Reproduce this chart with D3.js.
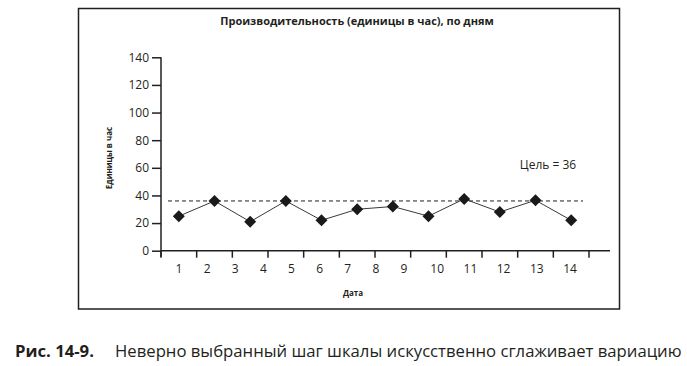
<!DOCTYPE html>
<html>
<head>
<meta charset="utf-8">
<script src="https://cdn.jsdelivr.net/npm/d3@7"></script>
<style>
  body { margin: 0; background: #fff; }
  text { font-family: "Open Sans", sans-serif; fill: #231f20; }
</style>
</head>
<body>
<svg id="chart" width="687" height="366"></svg>
<script>
// values
const values = [25, 36, 21, 36, 22, 30, 32, 25, 37.5, 28, 36.5, 22];
const dayLabels = [1, 2, 3, 4, 5, 6, 7, 8, 9, 10, 11, 12, 13, 14];
const yTicks = [0, 20, 40, 60, 80, 100, 120, 140];
const goal = 36;

const svg = d3.select("#chart");

// frame
svg.append("rect")
    .attr("x", 78.5).attr("y", 8.5)
    .attr("width", 541).attr("height", 300.5)
    .attr("fill", "none").attr("stroke", "#231f20").attr("stroke-width", 1.5);

const x0 = 161, x1 = 589, y0 = 250.7, y1 = 57.3;

const x = d3.scaleBand()
    .domain(d3.range(values.length))
    .range([x0, x1]);

const y = d3.scaleLinear()
    .domain([0, 140])
    .range([y0, y1]);

// labels don't line up with the ticks (that's the point of the figure)
const xLab = d3.scaleLinear()
    .domain([1, 9, 14])
    .range([179, 404, 570]);

// title
svg.append("text")
    .attr("x", 357).attr("y", 25)
    .attr("text-anchor", "middle")
    .style("font-size", "11px").style("font-weight", "bold")
    .text("Производительность (единицы в час), по дням");

// y axis
const yAxis = svg.append("g")
    .attr("transform", `translate(${x0},0)`)
    .call(d3.axisLeft(y).tickValues(yTicks).tickSize(9).tickPadding(3));
yAxis.select(".domain").attr("d", `M0,${y1}V${y0 + 6}`);
yAxis.selectAll("path, line").attr("stroke", "#231f20").attr("stroke-width", 1.5);
yAxis.selectAll("text")
    .style("font-family", "'Open Sans', sans-serif")
    .style("font-size", "12px").attr("fill", "#231f20");

// x axis: ticks at band edges, labels placed separately
const xg = svg.append("g").attr("transform", `translate(0,${y0})`);
xg.append("line")
    .attr("x1", x0).attr("x2", 610)
    .attr("stroke", "#231f20").attr("stroke-width", 1.5);
xg.selectAll("line.tick")
    .data(d3.range(values.length + 1))
    .join("line")
    .attr("class", "tick")
    .attr("x1", d => x0 + d * x.step()).attr("x2", d => x0 + d * x.step())
    .attr("y1", 0).attr("y2", 7)
    .attr("stroke", "#231f20").attr("stroke-width", 1.5);
xg.selectAll("text")
    .data(dayLabels)
    .join("text")
    .attr("x", d => xLab(d))
    .attr("y", 22)
    .attr("text-anchor", "middle")
    .style("font-size", "12px")
    .text(d => d);

// axis titles
svg.append("text")
    .attr("transform", "translate(112,158) rotate(-90)")
    .attr("text-anchor", "middle")
    .style("font-size", "8px").style("font-weight", "bold")
    .text("Единицы в час");

svg.append("text")
    .attr("x", 353).attr("y", 296)
    .attr("text-anchor", "middle")
    .style("font-size", "8px").style("font-weight", "bold")
    .text("Дата");

// goal line
svg.append("line")
    .attr("x1", 168).attr("x2", 583)
    .attr("y1", y(goal)).attr("y2", y(goal))
    .attr("stroke", "#231f20").attr("stroke-width", 1)
    .attr("stroke-dasharray", "4,3");

svg.append("text")
    .attr("x", 548).attr("y", 169)
    .attr("text-anchor", "middle")
    .style("font-size", "12px")
    .text(`Цель = ${goal}`);

// series
const line = d3.line()
    .x((d, i) => x(i) + x.bandwidth() / 2)
    .y(d => y(d));

svg.append("path")
    .datum(values)
    .attr("d", line)
    .attr("fill", "none")
    .attr("stroke", "#3a3a3a").attr("stroke-width", 1);

svg.selectAll("path.pt")
    .data(values)
    .join("path")
    .attr("class", "pt")
    .attr("d", d3.symbol(d3.symbolSquare, 72))
    .attr("transform", (d, i) => `translate(${x(i) + x.bandwidth() / 2},${y(d)}) rotate(45)`)
    .attr("fill", "#1a1a1a");

// caption
svg.append("text")
    .attr("x", 15).attr("y", 357)
    .style("font-size", "16.7px").style("font-weight", "bold")
    .text("Рис. 14-9.");
svg.append("text")
    .attr("x", 115).attr("y", 357)
    .style("font-size", "16.7px")
    .text("Неверно выбранный шаг шкалы искусственно сглаживает вариацию");
</script>
</body>
</html>
